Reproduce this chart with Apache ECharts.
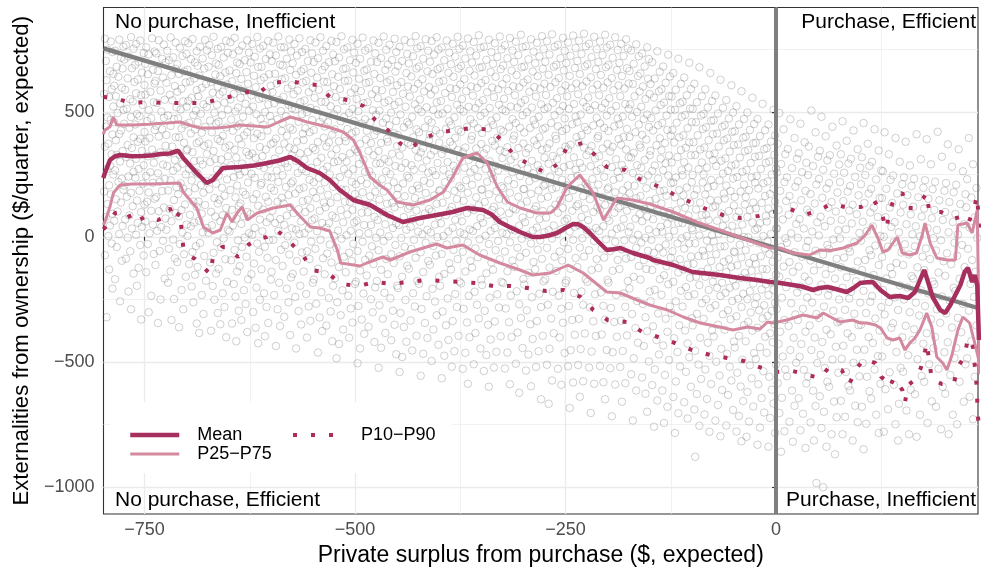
<!DOCTYPE html>
<html><head><meta charset="utf-8">
<script src="https://cdn.jsdelivr.net/npm/echarts@6/dist/echarts.min.js"></script>
<style>html,body{margin:0;padding:0;background:#fff}#c{width:981px;height:575px}</style>
</head><body><div id="c"></div>
<script>
// ---- axis ticks ----
const xTicks = [-750, -500, -250, 0];
const xMinorTicks = [-625, -375, -125, 125];
const yTicks = [-1000, -500, 0, 500];
const yMinorTicks = [-750, -250, 250, 750];
const xLimits = [-798.7, 239.9];
const yLimits = [-1109, 917];

// ---- labels ----
const xTitle = 'Private surplus from purchase ($, expected)';
const yTitle = 'Externalities from ownership ($/quarter, expected)';
const nameMean = 'Mean';
const nameIQR = 'P25\u2212P75';
const nameP1090 = 'P10\u2212P90';
const quadTopLeft = 'No purchase, Inefficient';
const quadTopRight = 'Purchase, Efficient';
const quadBottomLeft = 'No purchase, Efficient';
const quadBottomRight = 'Purchase, Inefficient';

// ---- reference lines ----
const vlineX = 0;
const diagonal = [[-798.7, 753.7], [239.9, -284.9]];

// ---- summary curves (x, y) ----
const meanLine = [[-799,235],[-797,255],[-791,307],[-785,322],[-779,327],[-765,322],[-752,323],[-740,326],[-731,331],[-720,333],[-710,344],[-704,315],[-696,285],[-688,255],[-676,215],[-669,227],[-662,255],[-657,275],[-637,279],[-620,285],[-604,295],[-590,305],[-577,319],[-567,300],[-557,275],[-542,255],[-530,227],[-518,187],[-502,147],[-482,127],[-462,87],[-443,59],[-423,75],[-403,87],[-384,99],[-367,115],[-348,107],[-338,90],[-328,59],[-316,38],[-304,19],[-289,-1],[-280,-1],[-270,5],[-260,15],[-250,35],[-241,51],[-235,50],[-229,39],[-221,15],[-213,-13],[-201,-53],[-193,-50],[-185,-45],[-170,-65],[-160,-75],[-150,-85],[-146,-93],[-122,-113],[-99,-141],[-80,-148],[-67,-153],[-43,-165],[-25,-172],[-7,-181],[5,-185],[20,-193],[32,-200],[44,-213],[52,-205],[61,-201],[72,-210],[84,-221],[92,-205],[100,-185],[108,-182],[115,-181],[124,-213],[135,-241],[147,-237],[157,-245],[165,-221],[171,-173],[176,-133],[181,-185],[186,-241],[195,-293],[201,-305],[207,-273],[213,-233],[219,-193],[224,-141],[228,-125],[233,-181],[236,-153],[239,-193],[241,-413]];
const p75Line = [[-799,410],[-797,427],[-791,440],[-787,479],[-783,447],[-764,447],[-745,450],[-723,455],[-708,459],[-695,445],[-684,435],[-664,435],[-650,440],[-637,447],[-620,443],[-604,439],[-590,460],[-577,479],[-567,470],[-557,459],[-542,447],[-528,435],[-514,419],[-502,387],[-494,335],[-482,239],[-472,210],[-462,187],[-450,139],[-431,127],[-411,147],[-395,179],[-384,239],[-372,315],[-355,335],[-343,295],[-331,199],[-319,139],[-304,115],[-284,95],[-268,95],[-260,119],[-248,199],[-233,247],[-217,175],[-205,67],[-189,155],[-170,147],[-150,131],[-122,99],[-94,59],[-67,27],[-34,-13],[-7,-45],[5,-45],[20,-65],[40,-73],[52,-53],[65,-55],[80,-45],[96,-25],[100,-13],[106,7],[114,47],[118,15],[121,-5],[127,-61],[133,-53],[144,-1],[150,-65],[159,-73],[167,-65],[173,-1],[177,55],[183,-25],[191,-85],[203,-93],[213,-93],[216,47],[227,55],[233,15],[239,107],[242,-550]];
const p25Line = [[-799,47],[-797,59],[-791,120],[-787,175],[-779,207],[-764,211],[-743,211],[-725,213],[-708,215],[-704,179],[-688,115],[-680,39],[-669,15],[-660,27],[-652,95],[-646,59],[-640,95],[-634,119],[-628,67],[-616,95],[-597,115],[-577,127],[-569,95],[-553,39],[-542,35],[-530,23],[-521,-53],[-517,-105],[-494,-117],[-486,-105],[-467,-81],[-458,-93],[-435,-61],[-403,-29],[-391,-45],[-372,-33],[-352,-73],[-328,-105],[-304,-133],[-289,-153],[-268,-145],[-247,-113],[-229,-145],[-201,-221],[-185,-225],[-165,-253],[-150,-273],[-129,-293],[-110,-321],[-90,-345],[-67,-361],[-51,-373],[-34,-361],[-19,-369],[-10,-341],[-4,-345],[13,-333],[32,-313],[49,-325],[56,-305],[76,-341],[91,-333],[100,-345],[108,-345],[118,-353],[124,-365],[132,-405],[139,-413],[147,-405],[153,-453],[159,-425],[165,-405],[171,-373],[179,-305],[185,-361],[191,-481],[198,-505],[203,-533],[209,-473],[216,-373],[222,-321],[230,-345],[236,-425],[240,-481],[242,-513]];
const p90Line = [[-799,559],[-785,555],[-767,535],[-746,539],[-723,535],[-702,535],[-680,535],[-660,551],[-640,567],[-628,579],[-616,571],[-599,615],[-577,623],[-559,611],[-544,607],[-530,559],[-509,547],[-490,523],[-476,467],[-461,427],[-447,375],[-435,351],[-420,391],[-403,415],[-381,427],[-360,435],[-338,427],[-324,379],[-310,323],[-292,287],[-273,255],[-258,295],[-248,359],[-230,375],[-215,327],[-201,279],[-179,267],[-162,231],[-141,203],[-122,171],[-102,139],[-83,111],[-63,87],[-43,75],[-21,83],[-4,99],[17,111],[33,87],[50,103],[65,131],[82,119],[101,119],[116,147],[125,99],[131,31],[135,99],[141,163],[150,175],[156,115],[163,115],[175,155],[179,175],[182,99],[196,99],[209,71],[224,83],[229,59],[234,103],[239,163],[242,-13]];
const p10Line = [[-799,30],[-795,43],[-785,95],[-771,103],[-764,55],[-747,83],[-734,67],[-728,75],[-720,115],[-714,67],[-708,99],[-704,-41],[-698,-73],[-690,-89],[-684,-109],[-672,-149],[-669,-89],[-658,-41],[-652,-41],[-639,-81],[-627,-33],[-616,-9],[-605,-1],[-593,27],[-580,-13],[-562,-73],[-551,-133],[-532,-145],[-517,-189],[-496,-197],[-476,-181],[-456,-189],[-437,-181],[-416,-173],[-395,-177],[-376,-181],[-356,-185],[-336,-197],[-315,-197],[-295,-205],[-273,-217],[-252,-213],[-232,-241],[-217,-293],[-200,-333],[-177,-341],[-159,-381],[-140,-401],[-120,-425],[-100,-453],[-78,-473],[-58,-485],[-38,-497],[-20,-521],[0,-541],[20,-537],[37,-553],[53,-565],[62,-525],[78,-533],[87,-589],[96,-525],[105,-489],[118,-505],[125,-561],[132,-577],[135,-601],[140,-565],[150,-613],[153,-665],[157,-593],[163,-577],[172,-525],[177,-457],[179,-425],[182,-497],[185,-569],[197,-589],[211,-589],[216,-521],[224,-477],[228,-405],[234,-441],[236,-513],[238,-585],[239,-657],[240,-725],[242,-773]];

const cloud = [
[-797,792],[-790,781],[-794,748],[-788,739],[-796,703],[-791,662],[-787,651],[-795,626],[-789,590],[-798,571],[-792,559],[-787,521],[-794,477],[-790,468],[-796,440],[-788,409],[-793,372],[-797,361],[-789,330],[-791,284],[-795,270],[-787,249],[-792,206],[-798,181],[-790,170],[-794,131],[-788,92],[-796,79],[-791,45],[-793,3],[-789,-27],[-797,-74],[-792,-131],[-788,-207],[-795,-322],
[-780,788],[-775,760],[-785,744],[-778,716],[-783,680],[-776,673],[-781,640],[-786,604],[-777,596],[-784,562],[-779,533],[-775,507],[-782,495],[-786,458],[-778,425],[-780,411],[-784,386],[-776,343],[-783,327],[-779,301],[-785,266],[-777,232],[-781,219],[-775,188],[-784,150],[-778,137],[-782,101],[-786,64],[-776,43],[-780,11],[-783,-41],[-777,-96],[-785,-170],[-779,-258],
[-766,799],[-772,767],[-763,752],[-769,721],[-774,709],[-765,674],[-770,634],[-762,619],[-773,588],[-767,550],[-764,541],[-771,512],[-766,479],[-774,452],[-768,436],[-763,398],[-770,367],[-765,355],[-772,319],[-767,293],[-763,260],[-769,241],[-774,204],[-766,176],[-771,160],[-764,122],[-768,85],[-773,69],[-765,33],[-770,-4],[-767,-58],[-772,-88],[-763,-147],[-769,-219],[-766,-290],
[-755,785],[-760,771],[-751,735],[-757,700],[-761,688],[-753,657],[-758,629],[-750,607],[-760,574],[-754,566],[-752,527],[-759,491],[-756,482],[-761,449],[-750,419],[-755,392],[-758,380],[-753,344],[-760,312],[-751,286],[-757,271],[-761,236],[-752,213],[-756,184],[-759,145],[-750,129],[-754,98],[-758,56],[-753,40],[-760,8],[-755,-33],[-751,-75],[-757,-124],[-759,-196],[-754,-331],
[-741,794],[-748,758],[-738,741],[-745,729],[-749,692],[-740,668],[-746,650],[-738,613],[-743,580],[-749,569],[-739,538],[-745,506],[-742,474],[-747,463],[-738,427],[-744,395],[-749,381],[-741,349],[-746,322],[-739,296],[-743,258],[-748,243],[-740,216],[-745,177],[-738,152],[-747,140],[-742,104],[-749,61],[-740,48],[-744,14],[-746,-29],[-739,-69],[-748,-142],[-742,-236],[-745,-302],
[-733,786],[-727,769],[-736,733],[-729,712],[-725,697],[-734,663],[-728,637],[-737,623],[-731,585],[-726,548],[-735,535],[-730,501],[-727,476],[-736,444],[-729,430],[-733,401],[-725,364],[-731,338],[-737,327],[-728,289],[-734,254],[-726,231],[-732,220],[-729,183],[-736,159],[-727,117],[-733,102],[-725,73],[-730,39],[-735,24],[-728,-16],[-732,-57],[-737,-113],[-726,-167],[-731,-251],[-734,-345],
[-719,797],[-713,777],[-723,744],[-716,718],[-721,706],[-713,672],[-718,646],[-724,616],[-714,603],[-720,568],[-717,546],[-712,518],[-722,485],[-715,471],[-719,443],[-724,407],[-713,398],[-717,361],[-721,333],[-714,307],[-723,283],[-716,264],[-719,226],[-712,198],[-722,185],[-715,147],[-720,111],[-713,95],[-718,62],[-724,28],[-716,-11],[-721,-48],[-714,-86],[-719,-139],[-722,-184],[-715,-249],[-718,-333],
[-702,782],[-708,756],[-700,731],[-705,723],[-711,690],[-703,661],[-709,651],[-701,617],[-706,592],[-711,580],[-704,541],[-700,520],[-707,509],[-710,474],[-702,449],[-706,433],[-709,398],[-703,376],[-700,345],[-708,326],[-705,292],[-711,277],[-701,249],[-707,214],[-704,193],[-710,170],[-702,129],[-706,107],[-709,82],[-700,49],[-705,17],[-708,-29],[-703,-70],[-711,-101],[-701,-160],[-706,-213],[-704,-290],[-709,-362],
[-693,791],[-698,774],[-688,742],[-695,711],[-690,697],[-699,668],[-691,633],[-696,621],[-688,587],[-694,556],[-698,543],[-689,505],[-692,487],[-697,456],[-690,429],[-695,413],[-688,374],[-699,350],[-693,338],[-691,303],[-697,270],[-689,258],[-694,225],[-690,194],[-698,178],[-692,141],[-688,120],[-696,88],[-691,57],[-695,42],[-699,3],[-689,-38],[-693,-61],[-697,-109],[-690,-152],[-694,-199],[-692,-262],[-688,-347],
[-678,787],[-684,760],[-676,746],[-681,713],[-687,684],[-679,673],[-685,645],[-677,611],[-682,596],[-686,562],[-680,530],[-676,519],[-683,492],[-687,458],[-678,440],[-682,416],[-685,381],[-679,364],[-676,331],[-684,305],[-681,289],[-687,252],[-677,222],[-683,207],[-680,176],[-686,141],[-678,127],[-682,93],[-685,64],[-676,35],[-681,18],[-684,-25],[-679,-77],[-687,-121],[-677,-176],[-682,-233],[-680,-309],[-685,-385],
[-668,800],[-673,767],[-663,752],[-670,726],[-665,693],[-674,680],[-666,649],[-671,619],[-663,601],[-669,576],[-673,544],[-664,528],[-667,496],[-672,465],[-665,453],[-670,418],[-663,391],[-674,372],[-668,343],[-666,311],[-672,299],[-664,268],[-669,233],[-665,212],[-673,190],[-667,155],[-663,133],[-671,100],[-666,81],[-670,46],[-674,16],[-664,-22],[-668,-64],[-672,-103],[-665,-147],[-669,-197],[-667,-252],[-663,-305],[-671,-376],
[-653,784],[-659,759],[-651,736],[-656,717],[-662,687],[-654,657],[-660,642],[-652,609],[-657,580],[-661,569],[-655,537],[-651,508],[-658,487],[-662,460],[-653,437],[-657,404],[-660,383],[-654,357],[-651,322],[-659,309],[-656,278],[-662,244],[-652,229],[-658,196],[-655,164],[-661,148],[-653,115],[-657,86],[-660,62],[-651,27],[-656,-6],[-659,-42],[-654,-90],[-662,-128],[-652,-180],[-657,-226],[-655,-281],[-660,-350],[-653,-402],
[-643,796],[-648,778],[-638,745],[-645,730],[-640,697],[-649,665],[-641,654],[-646,622],[-638,593],[-644,571],[-648,549],[-639,517],[-642,501],[-647,469],[-640,442],[-645,424],[-638,392],[-649,365],[-643,348],[-641,317],[-647,286],[-639,271],[-644,239],[-640,205],[-648,187],[-642,158],[-638,124],[-646,108],[-641,73],[-645,44],[-649,21],[-639,-14],[-643,-53],[-647,-94],[-640,-139],[-644,-189],[-642,-240],[-638,-296],[-646,-347],[-641,-418],
[-628,786],[-634,765],[-626,737],[-631,706],[-637,691],[-629,659],[-635,631],[-627,612],[-632,583],[-636,556],[-630,532],[-626,503],[-633,480],[-637,450],[-628,419],[-632,405],[-635,370],[-629,340],[-626,326],[-634,293],[-631,261],[-637,248],[-627,217],[-633,180],[-630,168],[-636,133],[-628,99],[-632,82],[-635,51],[-626,14],[-631,-3],[-634,-41],[-629,-80],[-637,-118],[-627,-170],[-632,-214],[-630,-269],[-635,-333],[-628,-381],
[-616,799],[-622,771],[-613,753],[-619,720],[-624,697],[-615,679],[-620,644],[-612,626],[-618,598],[-623,566],[-614,551],[-621,521],[-617,490],[-612,471],[-624,441],[-616,412],[-620,394],[-613,359],[-622,333],[-618,316],[-614,285],[-623,252],[-619,236],[-612,207],[-617,171],[-621,151],[-615,124],[-624,91],[-613,69],[-619,36],[-622,8],[-616,-27],[-614,-60],[-620,-107],[-623,-149],[-617,-203],[-613,-252],[-621,-301],[-618,-364],[-615,-426],
[-603,783],[-609,764],[-601,729],[-606,711],[-611,680],[-602,650],[-608,637],[-600,604],[-605,574],[-610,556],[-603,529],[-607,499],[-601,483],[-609,448],[-604,425],[-611,402],[-600,370],[-606,349],[-610,322],[-602,292],[-608,275],[-604,241],[-611,215],[-600,196],[-606,160],[-603,140],[-609,109],[-601,75],[-605,58],[-610,22],[-602,-13],[-607,-40],[-604,-84],[-611,-130],[-600,-171],[-608,-226],[-605,-281],[-603,-345],[-607,-398],
[-591,801],[-597,776],[-588,758],[-594,726],[-599,703],[-589,689],[-595,652],[-587,630],[-593,613],[-598,578],[-590,547],[-596,534],[-588,503],[-592,470],[-599,457],[-587,423],[-594,393],[-597,376],[-590,346],[-595,313],[-588,298],[-593,265],[-599,237],[-591,219],[-596,184],[-587,156],[-592,140],[-598,104],[-589,71],[-595,55],[-591,23],[-597,-12],[-588,-52],[-594,-93],[-599,-140],[-590,-184],[-596,-233],[-592,-290],[-589,-357],[-594,-437],
[-578,789],[-584,758],[-576,742],[-581,712],[-586,685],[-577,667],[-583,634],[-575,606],[-580,593],[-585,560],[-579,528],[-575,514],[-582,482],[-586,453],[-577,436],[-581,404],[-584,373],[-578,357],[-575,326],[-583,294],[-580,278],[-586,246],[-576,214],[-582,199],[-579,167],[-585,133],[-577,118],[-581,85],[-584,48],[-575,34],[-580,2],[-583,-34],[-578,-71],[-586,-117],[-576,-163],[-581,-208],[-579,-262],[-584,-320],[-577,-393],
[-566,794],[-572,771],[-563,739],[-569,725],[-574,694],[-564,662],[-570,648],[-562,617],[-568,585],[-573,570],[-565,538],[-571,509],[-563,490],[-567,460],[-574,428],[-562,412],[-569,381],[-572,350],[-565,334],[-570,303],[-563,270],[-568,255],[-574,222],[-566,191],[-571,173],[-562,142],[-567,110],[-573,95],[-564,61],[-570,29],[-566,11],[-572,-24],[-563,-63],[-569,-97],[-574,-148],[-565,-196],[-571,-241],[-567,-297],[-564,-351],[-570,-447],
[-553,786],[-559,752],[-551,733],[-556,703],[-561,671],[-552,656],[-558,623],[-550,596],[-555,578],[-560,545],[-553,515],[-557,498],[-551,467],[-559,434],[-554,418],[-561,387],[-550,356],[-556,339],[-560,308],[-552,276],[-558,261],[-554,228],[-561,197],[-550,180],[-556,148],[-553,115],[-559,99],[-551,66],[-555,33],[-560,15],[-552,-19],[-557,-58],[-554,-89],[-561,-139],[-550,-184],[-558,-229],[-555,-279],[-553,-336],[-557,-403],
[-541,798],[-547,777],[-538,744],[-544,714],[-549,699],[-539,667],[-545,637],[-537,620],[-543,588],[-548,556],[-540,540],[-546,507],[-538,476],[-542,459],[-549,427],[-537,396],[-544,379],[-547,347],[-540,316],[-545,299],[-538,267],[-543,236],[-549,218],[-541,187],[-546,155],[-537,137],[-542,104],[-548,73],[-539,55],[-545,22],[-541,-12],[-547,-48],[-538,-86],[-544,-128],[-549,-171],[-540,-222],[-546,-268],[-542,-323],[-539,-377],[-544,-463],
[-528,784],[-534,763],[-526,729],[-531,698],[-536,682],[-527,650],[-533,619],[-525,602],[-530,571],[-535,539],[-529,522],[-525,490],[-532,458],[-536,441],[-527,409],[-531,378],[-534,361],[-528,329],[-525,298],[-533,281],[-530,249],[-536,218],[-526,200],[-532,168],[-529,136],[-535,118],[-527,85],[-531,54],[-534,36],[-525,3],[-530,-31],[-533,-67],[-528,-103],[-536,-150],[-526,-196],[-531,-245],[-529,-299],[-534,-355],[-527,-418],
[-516,802],[-522,779],[-513,750],[-519,717],[-524,702],[-514,671],[-520,640],[-512,623],[-518,591],[-523,559],[-515,543],[-521,510],[-513,479],[-517,462],[-524,430],[-512,399],[-519,382],[-522,350],[-515,319],[-520,302],[-513,270],[-518,239],[-524,221],[-516,189],[-521,158],[-512,140],[-517,107],[-523,76],[-514,58],[-520,25],[-516,-8],[-522,-45],[-513,-80],[-519,-121],[-524,-166],[-515,-214],[-521,-262],[-517,-314],[-514,-371],[-519,-429],[-522,-486],
[-503,788],[-509,757],[-501,737],[-506,706],[-511,674],[-502,657],[-508,625],[-500,593],[-505,576],[-510,544],[-503,512],[-507,495],[-501,463],[-509,431],[-504,414],[-511,382],[-500,350],[-506,333],[-510,301],[-502,270],[-508,252],[-504,220],[-511,188],[-500,171],[-506,139],[-503,107],[-509,89],[-501,57],[-505,24],[-510,6],[-502,-28],[-507,-64],[-504,-97],[-511,-142],[-500,-189],[-508,-236],[-505,-287],[-503,-343],[-507,-404],
[-491,797],[-497,772],[-488,745],[-494,712],[-499,696],[-489,664],[-495,632],[-487,615],[-493,583],[-498,551],[-490,534],[-496,502],[-488,470],[-492,453],[-499,421],[-487,389],[-494,372],[-497,340],[-490,308],[-495,291],[-488,259],[-493,227],[-499,210],[-491,178],[-496,146],[-487,129],[-492,96],[-498,64],[-489,47],[-495,14],[-491,-20],[-497,-57],[-488,-92],[-494,-135],[-499,-180],[-490,-227],[-496,-277],[-492,-331],[-489,-388],[-494,-447],[-497,-506],
[-478,785],[-484,754],[-476,733],[-481,700],[-486,669],[-477,651],[-483,619],[-475,588],[-480,570],[-485,538],[-479,506],[-475,488],[-482,456],[-486,424],[-477,407],[-481,375],[-484,343],[-478,326],[-475,293],[-483,262],[-480,244],[-486,212],[-476,180],[-482,162],[-479,130],[-485,98],[-477,80],[-481,47],[-484,14],[-475,-4],[-480,-38],[-483,-75],[-478,-109],[-486,-155],[-476,-202],[-481,-250],[-479,-302],[-484,-360],[-477,-421],
[-466,801],[-472,776],[-463,748],[-469,715],[-474,699],[-464,667],[-470,635],[-462,618],[-468,586],[-473,554],[-465,537],[-471,505],[-463,473],[-467,456],[-474,424],[-462,392],[-469,375],[-472,343],[-465,311],[-470,294],[-463,262],[-468,230],[-474,213],[-466,181],[-471,149],[-462,132],[-467,99],[-473,67],[-464,50],[-470,17],[-466,-17],[-472,-54],[-463,-89],[-469,-132],[-474,-177],[-465,-224],[-471,-274],[-467,-328],[-464,-385],[-469,-444],[-472,-524],
[-453,792],[-459,768],[-451,739],[-456,707],[-461,689],[-452,661],[-458,627],[-450,606],[-455,579],[-460,545],[-453,527],[-457,496],[-451,463],[-459,445],[-454,414],[-461,380],[-450,363],[-456,332],[-460,300],[-452,283],[-458,250],[-454,218],[-461,201],[-450,168],[-456,136],[-453,118],[-459,86],[-451,53],[-455,35],[-460,2],[-452,-33],[-457,-70],[-454,-105],[-461,-150],[-450,-196],[-458,-246],[-455,-296],[-453,-352],[-457,-414],[-451,-470],
[-441,787],[-447,760],[-438,731],[-444,703],[-449,684],[-439,655],[-445,619],[-437,601],[-443,572],[-448,540],[-440,520],[-446,489],[-438,458],[-442,438],[-449,407],[-437,376],[-444,357],[-447,325],[-440,295],[-445,276],[-438,244],[-443,213],[-449,194],[-441,162],[-446,131],[-437,112],[-442,79],[-448,47],[-439,28],[-445,-5],[-441,-40],[-447,-78],[-438,-116],[-444,-160],[-449,-205],[-440,-253],[-446,-305],[-442,-361],[-439,-420],[-444,-481],[-447,-541],
[-428,803],[-434,777],[-426,754],[-431,722],[-436,693],[-427,673],[-433,641],[-425,612],[-430,592],[-435,561],[-429,530],[-425,511],[-432,480],[-436,449],[-427,430],[-431,398],[-434,367],[-428,348],[-425,317],[-433,286],[-430,268],[-436,236],[-426,205],[-432,187],[-429,155],[-435,123],[-427,105],[-431,72],[-434,40],[-425,21],[-430,-12],[-433,-49],[-428,-84],[-436,-128],[-426,-176],[-431,-226],[-429,-279],[-434,-335],[-427,-396],[-432,-455],
[-416,790],[-422,762],[-413,744],[-419,712],[-424,681],[-414,662],[-420,630],[-412,599],[-418,581],[-423,549],[-415,518],[-421,499],[-413,468],[-417,437],[-424,418],[-412,386],[-419,355],[-422,337],[-415,305],[-420,274],[-413,256],[-418,224],[-424,193],[-416,175],[-421,142],[-412,111],[-417,93],[-423,60],[-414,28],[-420,10],[-416,-24],[-422,-62],[-413,-97],[-419,-141],[-424,-188],[-415,-238],[-421,-289],[-417,-345],[-414,-405],[-419,-468],[-422,-556],
[-403,798],[-409,783],[-401,749],[-406,729],[-411,700],[-402,670],[-408,651],[-400,620],[-405,588],[-410,569],[-403,538],[-407,507],[-401,489],[-409,457],[-404,426],[-411,408],[-400,376],[-406,345],[-410,327],[-402,295],[-408,264],[-404,246],[-411,214],[-400,183],[-406,165],[-403,132],[-409,101],[-401,82],[-405,49],[-410,17],[-402,-2],[-407,-37],[-404,-75],[-411,-112],[-400,-160],[-408,-208],[-405,-259],[-403,-314],[-407,-371],[-401,-432],[-409,-497],
[-391,785],[-397,757],[-388,737],[-394,706],[-399,676],[-389,656],[-395,624],[-387,594],[-393,575],[-398,543],[-390,512],[-396,493],[-388,462],[-392,431],[-399,412],[-387,380],[-394,349],[-397,331],[-390,299],[-395,268],[-388,250],[-393,218],[-399,187],[-391,168],[-396,136],[-387,105],[-392,86],[-398,54],[-389,21],[-395,3],[-391,-31],[-397,-69],[-388,-106],[-394,-149],[-399,-196],[-390,-247],[-396,-299],[-392,-354],[-389,-413],[-394,-476],[-397,-566],
[-378,800],[-384,772],[-376,752],[-381,721],[-386,690],[-377,673],[-383,640],[-375,609],[-380,591],[-385,559],[-379,528],[-375,510],[-382,478],[-386,446],[-377,428],[-381,396],[-384,365],[-378,347],[-375,315],[-383,284],[-380,265],[-386,233],[-376,202],[-382,183],[-379,151],[-385,120],[-377,101],[-381,68],[-384,36],[-375,17],[-380,-16],[-383,-53],[-378,-89],[-386,-131],[-376,-179],[-381,-229],[-379,-281],[-384,-337],[-377,-396],[-382,-458],[-385,-520],
[-366,793],[-372,765],[-363,742],[-369,713],[-374,683],[-364,664],[-370,631],[-362,601],[-368,582],[-373,551],[-365,520],[-371,501],[-363,470],[-367,439],[-374,420],[-362,388],[-369,357],[-372,338],[-365,307],[-370,276],[-363,257],[-368,226],[-374,194],[-366,176],[-371,144],[-362,113],[-367,94],[-373,62],[-364,29],[-370,10],[-366,-23],[-372,-60],[-363,-96],[-369,-139],[-374,-186],[-365,-236],[-371,-288],[-367,-343],[-364,-402],[-369,-464],[-372,-528],[-366,-588],
[-353,806],[-359,779],[-351,756],[-356,725],[-361,697],[-352,676],[-358,645],[-350,615],[-355,596],[-360,564],[-353,534],[-357,515],[-351,484],[-359,453],[-354,434],[-361,403],[-350,371],[-356,353],[-360,321],[-352,290],[-358,271],[-354,240],[-361,208],[-350,189],[-356,158],[-353,126],[-359,107],[-351,75],[-355,42],[-360,23],[-352,-10],[-357,-46],[-354,-82],[-361,-123],[-350,-171],[-358,-220],[-355,-272],[-353,-327],[-357,-385],[-351,-447],[-359,-510],
[-341,788],[-347,760],[-338,739],[-344,708],[-349,679],[-339,659],[-345,627],[-337,597],[-343,578],[-348,546],[-340,515],[-346,496],[-338,465],[-342,434],[-349,415],[-337,383],[-344,352],[-347,333],[-340,302],[-345,271],[-338,252],[-343,220],[-349,189],[-341,170],[-346,139],[-337,107],[-342,88],[-348,56],[-339,23],[-345,4],[-341,-29],[-347,-66],[-338,-103],[-344,-146],[-349,-193],[-340,-244],[-346,-296],[-342,-352],[-339,-411],[-344,-473],[-347,-537],[-341,-600],
[-328,801],[-334,774],[-326,749],[-331,719],[-336,692],[-327,670],[-333,640],[-325,610],[-330,590],[-335,559],[-329,528],[-325,509],[-332,478],[-336,447],[-327,428],[-331,396],[-334,365],[-328,346],[-325,315],[-333,284],[-330,265],[-336,233],[-326,202],[-332,183],[-329,151],[-335,120],[-327,101],[-331,68],[-334,35],[-325,16],[-330,-17],[-333,-54],[-328,-90],[-336,-132],[-326,-180],[-331,-230],[-329,-283],[-334,-339],[-327,-398],[-332,-460],[-335,-523],
[-316,795],[-322,766],[-313,745],[-319,714],[-324,685],[-314,665],[-320,633],[-312,602],[-318,583],[-323,552],[-315,521],[-321,502],[-313,471],[-317,440],[-324,421],[-312,389],[-319,358],[-322,339],[-315,308],[-320,277],[-313,258],[-318,226],[-324,195],[-316,176],[-321,145],[-312,113],[-317,94],[-323,62],[-314,30],[-320,11],[-316,-22],[-322,-59],[-313,-95],[-319,-138],[-324,-185],[-315,-235],[-321,-287],[-317,-342],[-314,-401],[-319,-463],[-322,-527],[-316,-590],
[-303,808],[-309,780],[-301,758],[-306,727],[-311,699],[-302,678],[-308,647],[-300,617],[-305,598],[-310,566],[-303,536],[-307,517],[-301,486],[-309,455],[-304,436],[-311,405],[-300,373],[-306,355],[-310,323],[-302,292],[-308,273],[-304,242],[-311,210],[-300,191],[-306,160],[-303,128],[-309,109],[-301,77],[-305,44],[-310,25],[-302,-8],[-307,-44],[-304,-80],[-311,-121],[-300,-169],[-308,-218],[-305,-270],[-303,-325],[-307,-383],[-301,-445],[-309,-508],[-305,-624],
[-291,790],[-297,762],[-288,741],[-294,710],[-299,681],[-289,661],[-295,629],[-287,599],[-293,580],[-298,548],[-290,517],[-296,498],[-288,467],[-292,436],[-299,417],[-287,385],[-294,354],[-297,335],[-290,304],[-295,273],[-288,254],[-293,222],[-299,191],[-291,172],[-296,141],[-287,109],[-292,90],[-298,58],[-289,25],[-295,6],[-291,-27],[-297,-64],[-288,-101],[-294,-144],[-299,-191],[-290,-242],[-296,-294],[-292,-350],[-289,-409],[-294,-471],[-297,-535],[-291,-598],
[-278,803],[-284,776],[-276,751],[-281,721],[-286,694],[-277,672],[-283,642],[-275,612],[-280,592],[-285,561],[-279,530],[-275,511],[-282,480],[-286,449],[-277,430],[-281,398],[-284,367],[-278,348],[-275,317],[-283,286],[-280,267],[-286,235],[-276,204],[-282,185],[-279,153],[-285,122],[-277,103],[-281,70],[-284,37],[-275,18],[-280,-15],[-283,-52],[-278,-88],[-286,-130],[-276,-178],[-281,-228],[-279,-281],[-284,-337],[-277,-396],[-282,-458],[-285,-521],[-279,-650],
[-266,810],[-272,782],[-263,760],[-269,729],[-274,700],[-264,680],[-270,648],[-262,618],[-268,599],[-273,567],[-265,536],[-271,517],[-263,486],[-267,455],[-274,436],[-262,404],[-269,373],[-272,354],[-265,323],[-270,292],[-263,273],[-268,241],[-274,210],[-266,191],[-271,160],[-262,128],[-267,109],[-273,77],[-264,45],[-270,26],[-266,-7],[-272,-44],[-263,-80],[-269,-123],[-274,-170],[-265,-220],[-271,-272],[-267,-327],[-264,-386],[-269,-448],[-272,-512],[-266,-575],[-270,-668],
[-253,796],[-259,768],[-251,744],[-256,714],[-261,687],[-252,665],[-258,635],[-250,605],[-255,585],[-260,554],[-253,523],[-257,504],[-251,473],[-259,442],[-254,423],[-261,391],[-250,360],[-256,341],[-260,310],[-252,279],[-258,260],[-254,228],[-261,197],[-250,178],[-256,146],[-253,115],[-259,96],[-251,63],[-255,30],[-260,11],[-252,-22],[-257,-59],[-254,-95],[-261,-137],[-250,-185],[-258,-235],[-255,-288],[-253,-344],[-257,-403],[-251,-465],[-259,-528],[-255,-592],
[-241,805],[-247,777],[-238,755],[-244,724],[-249,695],[-239,675],[-245,643],[-237,613],[-243,594],[-248,562],[-240,531],[-246,512],[-238,481],[-242,450],[-249,431],[-237,399],[-244,368],[-247,349],[-240,318],[-245,287],[-238,268],[-243,236],[-249,205],[-241,186],[-246,155],[-237,123],[-242,104],[-248,72],[-239,40],[-245,21],[-241,-12],[-247,-49],[-238,-85],[-244,-128],[-249,-175],[-240,-225],[-246,-277],[-242,-333],[-239,-392],[-244,-454],[-247,-518],[-241,-583],[-245,-685],
[-228,812],[-234,784],[-226,761],[-231,731],[-236,703],[-227,682],[-233,651],[-225,621],[-230,602],[-235,570],[-229,539],[-225,520],[-232,489],[-236,458],[-227,439],[-231,407],[-234,376],[-228,357],[-225,326],[-233,295],[-230,276],[-236,244],[-226,213],[-232,194],[-229,162],[-235,131],[-227,112],[-231,79],[-234,46],[-225,27],[-230,-6],[-233,-43],[-228,-79],[-236,-121],[-226,-169],[-231,-219],[-229,-272],[-234,-328],[-227,-387],[-232,-449],[-235,-513],[-229,-578],[-233,-640],
[-216,800],[-222,772],[-213,750],[-219,719],[-224,690],[-214,670],[-220,638],[-212,608],[-218,589],[-223,557],[-215,526],[-221,507],[-213,476],[-217,445],[-224,426],[-212,394],[-219,363],[-222,344],[-215,313],[-220,282],[-213,263],[-218,231],[-224,200],[-216,181],[-221,150],[-212,118],[-217,99],[-223,67],[-214,35],[-220,16],[-216,-17],[-222,-54],[-213,-90],[-219,-133],[-224,-180],[-215,-230],[-221,-282],[-217,-338],[-214,-397],[-219,-459],[-222,-523],[-216,-588],[-220,-705],
[-203,808],[-209,781],[-201,757],[-206,727],[-211,699],[-202,678],[-208,647],[-200,617],[-205,597],[-210,566],[-203,535],[-207,516],[-201,485],[-209,454],[-204,435],[-211,403],[-200,372],[-206,353],[-210,322],[-202,291],[-208,272],[-204,240],[-211,209],[-200,190],[-206,158],[-203,127],[-209,108],[-201,75],[-205,42],[-210,23],[-202,-10],[-207,-47],[-204,-83],[-211,-125],[-200,-173],[-208,-223],[-205,-276],[-203,-332],[-207,-391],[-201,-453],[-209,-517],[-205,-582],[-203,-650],
[-191,798],[-197,768],[-188,747],[-194,716],[-199,687],[-189,667],[-195,635],[-187,605],[-193,586],[-198,554],[-190,523],[-196,504],[-188,473],[-192,442],[-199,423],[-187,391],[-194,360],[-197,341],[-190,310],[-195,279],[-188,260],[-193,228],[-199,197],[-191,178],[-196,147],[-187,115],[-192,96],[-198,64],[-189,32],[-195,13],[-191,-20],[-197,-57],[-188,-93],[-194,-136],[-199,-183],[-190,-233],[-196,-285],[-192,-341],[-189,-400],[-194,-462],[-197,-526],[-191,-591],[-195,-718],
[-178,790],[-184,772],[-176,753],[-181,723],[-186,695],[-177,674],[-183,643],[-175,613],[-180,593],[-185,562],[-179,531],[-175,512],[-182,481],[-186,450],[-177,431],[-181,399],[-184,368],[-178,349],[-175,318],[-183,287],[-180,268],[-186,236],[-176,205],[-182,186],[-179,154],[-185,123],[-177,104],[-181,71],[-184,38],[-175,19],[-180,-14],[-183,-51],[-178,-87],[-186,-129],[-176,-177],[-181,-227],[-179,-280],[-184,-336],[-177,-395],[-182,-457],[-185,-521],[-179,-586],[-183,-660],
[-166,770],[-172,745],[-163,722],[-169,692],[-174,663],[-164,643],[-170,611],[-162,581],[-168,562],[-173,530],[-165,499],[-171,480],[-163,449],[-167,418],[-174,399],[-162,367],[-169,336],[-172,317],[-165,286],[-170,255],[-163,236],[-168,204],[-174,173],[-166,154],[-171,123],[-162,91],[-167,72],[-173,40],[-164,8],[-170,-11],[-166,-44],[-172,-81],[-163,-117],[-169,-160],[-174,-207],[-165,-257],[-171,-309],[-167,-365],[-164,-424],[-169,-486],[-172,-550],[-166,-615],[-170,-735],
[-153,758],[-159,733],[-151,711],[-156,681],[-161,653],[-152,632],[-158,601],[-150,571],[-155,551],[-160,520],[-153,489],[-157,470],[-151,439],[-159,408],[-154,389],[-161,357],[-150,326],[-156,307],[-160,276],[-152,245],[-158,226],[-154,194],[-161,163],[-150,144],[-156,112],[-153,81],[-159,62],[-151,29],[-155,-4],[-160,-23],[-152,-56],[-157,-93],[-154,-129],[-161,-171],[-150,-219],[-158,-269],[-155,-322],[-153,-378],[-157,-437],[-151,-499],[-159,-563],[-155,-628],[-153,-700],
[-141,742],[-147,698],[-138,660],[-144,633],[-149,611],[-139,582],[-145,557],[-137,527],[-143,505],[-148,474],[-140,446],[-146,425],[-138,394],[-142,366],[-149,344],[-137,313],[-144,285],[-147,264],[-140,233],[-145,204],[-138,183],[-143,152],[-149,122],[-141,101],[-146,70],[-137,40],[-142,19],[-148,-12],[-139,-44],[-145,-64],[-141,-97],[-147,-133],[-138,-170],[-144,-212],[-149,-258],[-140,-307],[-146,-358],[-142,-413],[-139,-471],[-144,-531],[-147,-593],[-141,-655],[-145,-760],
[-128,728],[-134,681],[-126,641],[-131,616],[-136,590],[-127,563],[-133,537],[-125,508],[-130,485],[-135,455],[-129,427],[-125,405],[-132,375],[-136,346],[-127,325],[-131,294],[-134,266],[-128,245],[-125,214],[-133,185],[-130,164],[-136,133],[-126,103],[-132,82],[-129,51],[-135,20],[-127,0],[-131,-31],[-134,-63],[-125,-84],[-130,-117],[-133,-154],[-128,-190],[-136,-232],[-126,-279],[-131,-328],[-129,-380],[-134,-435],[-127,-493],[-132,-553],[-135,-615],[-129,-680],[-133,-745],
[-116,712],[-122,655],[-113,612],[-119,588],[-124,561],[-114,534],[-120,508],[-112,480],[-118,456],[-123,427],[-115,398],[-121,377],[-113,347],[-117,319],[-124,297],[-112,266],[-119,238],[-122,217],[-115,187],[-120,158],[-113,137],[-118,106],[-124,76],[-116,55],[-121,24],[-112,-6],[-117,-27],[-123,-58],[-114,-90],[-120,-110],[-116,-143],[-122,-180],[-113,-216],[-119,-258],[-124,-305],[-115,-354],[-121,-406],[-117,-461],[-114,-519],[-119,-579],[-122,-641],[-116,-706],[-120,-785],
[-103,696],[-109,637],[-101,591],[-106,566],[-111,540],[-102,513],[-108,487],[-100,459],[-105,435],[-110,406],[-103,377],[-107,356],[-101,326],[-109,298],[-104,277],[-111,246],[-100,218],[-106,197],[-110,166],[-102,137],[-108,116],[-104,85],[-111,55],[-100,34],[-106,3],[-103,-27],[-109,-48],[-101,-79],[-105,-111],[-110,-131],[-102,-164],[-107,-201],[-104,-237],[-111,-279],[-100,-326],[-108,-375],[-105,-427],[-103,-482],[-107,-540],[-101,-600],[-109,-662],[-105,-727],
[-91,678],[-97,612],[-88,562],[-94,538],[-99,511],[-89,485],[-95,458],[-87,431],[-93,406],[-98,378],[-90,349],[-96,327],[-88,297],[-92,270],[-99,247],[-87,217],[-94,189],[-97,167],[-90,137],[-95,109],[-88,87],[-93,57],[-99,26],[-91,5],[-96,-26],[-87,-56],[-92,-77],[-98,-108],[-89,-140],[-95,-160],[-91,-193],[-97,-230],[-88,-266],[-94,-308],[-99,-355],[-90,-404],[-96,-456],[-92,-511],[-89,-569],[-94,-629],[-97,-691],[-91,-756],[-96,-880],
[-78,655],[-84,590],[-76,543],[-81,517],[-86,491],[-77,464],[-83,438],[-75,410],[-80,386],[-85,357],[-79,328],[-75,307],[-82,277],[-86,249],[-77,227],[-81,197],[-84,169],[-78,147],[-75,117],[-83,88],[-80,67],[-86,36],[-76,6],[-82,-15],[-79,-46],[-85,-76],[-77,-97],[-81,-128],[-84,-160],[-75,-180],[-80,-213],[-83,-250],[-78,-286],[-86,-328],[-76,-375],[-81,-424],[-79,-476],[-84,-531],[-77,-589],[-82,-649],[-85,-711],[-79,-780],
[-66,628],[-72,565],[-63,516],[-69,493],[-74,466],[-64,440],[-70,413],[-62,386],[-68,361],[-73,333],[-65,304],[-71,283],[-63,253],[-67,225],[-74,203],[-62,173],[-69,145],[-72,123],[-65,93],[-70,64],[-63,43],[-68,12],[-74,-18],[-66,-39],[-71,-70],[-62,-100],[-67,-121],[-73,-152],[-64,-184],[-70,-204],[-66,-237],[-72,-274],[-63,-310],[-69,-352],[-74,-399],[-65,-448],[-71,-500],[-67,-555],[-64,-613],[-69,-673],[-72,-735],[-66,-798],
[-53,606],[-59,547],[-51,497],[-56,473],[-61,446],[-52,420],[-58,393],[-50,366],[-55,341],[-60,313],[-53,284],[-57,263],[-51,233],[-59,205],[-54,183],[-61,153],[-50,125],[-56,103],[-60,73],[-52,44],[-58,23],[-54,-8],[-61,-38],[-50,-59],[-56,-90],[-53,-120],[-59,-141],[-51,-172],[-55,-204],[-60,-224],[-52,-257],[-57,-294],[-54,-330],[-61,-372],[-50,-419],[-58,-468],[-55,-520],[-53,-575],[-57,-633],[-51,-693],[-59,-755],
[-41,582],[-47,522],[-38,471],[-44,449],[-49,422],[-39,396],[-45,369],[-37,342],[-43,317],[-48,289],[-40,260],[-46,239],[-38,209],[-42,181],[-49,159],[-37,129],[-44,101],[-47,79],[-40,49],[-45,20],[-38,-1],[-43,-32],[-49,-62],[-41,-83],[-46,-114],[-37,-144],[-42,-165],[-48,-196],[-39,-228],[-45,-248],[-41,-281],[-47,-318],[-38,-354],[-44,-396],[-49,-443],[-40,-492],[-46,-544],[-42,-599],[-39,-657],[-44,-717],[-47,-779],[-41,-818],
[-28,556],[-34,497],[-26,451],[-31,427],[-36,400],[-27,374],[-33,347],[-25,320],[-30,295],[-35,267],[-29,238],[-25,217],[-32,187],[-36,159],[-27,137],[-31,107],[-34,79],[-28,57],[-25,27],[-33,-2],[-30,-23],[-36,-54],[-26,-84],[-32,-105],[-29,-136],[-35,-166],[-27,-187],[-31,-218],[-34,-250],[-25,-270],[-30,-303],[-33,-340],[-28,-376],[-36,-418],[-26,-465],[-31,-514],[-29,-566],[-34,-621],[-27,-679],[-32,-739],[-35,-800],
[-16,532],[-22,471],[-13,426],[-19,403],[-24,376],[-14,350],[-20,323],[-12,296],[-18,271],[-23,243],[-15,214],[-21,193],[-13,163],[-17,135],[-24,113],[-12,83],[-19,55],[-22,33],[-15,3],[-20,-26],[-13,-47],[-18,-78],[-24,-108],[-16,-129],[-21,-160],[-12,-190],[-17,-211],[-23,-242],[-14,-274],[-20,-294],[-16,-327],[-22,-364],[-13,-400],[-19,-442],[-24,-489],[-15,-538],[-21,-590],[-17,-645],[-14,-703],[-19,-763],[-22,-832],
[-3,508],[-9,449],[-1,405],[-6,381],[-11,354],[-2,328],[-8,301],[0,274],[-5,249],[-10,221],[-3,192],[-7,171],[-1,141],[-9,113],[-4,91],[-11,61],[0,33],[-6,11],[-10,-19],[-2,-48],[-8,-69],[-4,-100],[-11,-130],[0,-151],[-6,-182],[-3,-212],[-9,-233],[-1,-264],[-5,-296],[-10,-316],[-2,-349],[-7,-386],[-4,-422],[-11,-464],[0,-511],[-8,-560],[-5,-612],[-3,-667],[-7,-725],[-1,-785],[-9,-840],
[4,495],[9,430],[2,372],[11,330],[6,291],[1,257],[10,219],[5,184],[12,143],[3,108],[8,69],[1,33],[11,-6],[6,-41],[2,-83],[9,-119],[4,-160],[12,-202],[7,-244],[1,-289],[10,-333],[5,-380],[3,-428],[8,-479],[11,-531],[2,-586],[7,-644],[4,-705],[10,-778],[6,-860],
[17,470],[22,395],[14,351],[25,312],[19,275],[13,238],[23,200],[16,163],[21,124],[15,88],[24,51],[18,14],[13,-24],[22,-62],[16,-101],[20,-140],[14,-181],[25,-223],[18,-266],[23,-311],[15,-357],[21,-404],[17,-453],[24,-504],[13,-558],[19,-615],[22,-676],[16,-740],[20,-820],
[29,452],[34,378],[27,334],[36,296],[31,258],[26,222],[35,184],[30,146],[37,108],[28,71],[33,33],[26,-4],[36,-42],[31,-80],[27,-119],[34,-159],[29,-200],[37,-243],[32,-288],[26,-333],[35,-380],[30,-429],[28,-480],[33,-532],[36,-587],[27,-646],[32,-708],[29,-774],[35,-845],
[42,505],[47,418],[39,361],[50,320],[44,283],[38,247],[48,209],[41,171],[46,133],[40,96],[49,58],[43,21],[38,-17],[47,-56],[41,-95],[45,-135],[39,-176],[50,-219],[43,-263],[48,-309],[40,-355],[46,-403],[42,-453],[49,-505],[38,-559],[44,-616],[47,-677],[41,-743],[45,-815],[48,-985],
[54,480],[59,402],[52,344],[61,306],[56,268],[51,231],[60,193],[55,156],[62,117],[53,80],[58,42],[51,5],[61,-33],[56,-71],[52,-110],[59,-150],[54,-191],[62,-234],[57,-279],[51,-325],[60,-372],[55,-421],[53,-472],[58,-525],[61,-580],[52,-638],[57,-700],[54,-765],[60,-840],[56,-1002],
[67,440],[72,365],[64,326],[75,289],[69,252],[63,215],[73,177],[66,139],[71,101],[65,64],[74,26],[68,-11],[63,-49],[72,-88],[66,-127],[70,-167],[64,-208],[75,-251],[68,-296],[73,-342],[65,-390],[71,-440],[67,-491],[74,-544],[63,-600],[69,-659],[72,-722],[66,-790],[70,-870],
[79,462],[84,384],[77,330],[86,293],[81,256],[76,219],[85,181],[80,143],[87,105],[78,68],[83,30],[76,-7],[86,-45],[81,-83],[77,-122],[84,-162],[79,-204],[87,-247],[82,-292],[76,-338],[85,-386],[80,-436],[78,-488],[83,-541],[86,-597],[77,-656],[82,-720],[79,-790],
[92,425],[97,350],[89,312],[100,276],[94,240],[88,203],[98,166],[91,128],[96,90],[90,53],[99,15],[93,-22],[88,-60],[97,-99],[91,-138],[95,-178],[89,-220],[100,-263],[93,-308],[98,-354],[90,-402],[96,-452],[92,-504],[99,-558],[88,-615],[94,-676],[97,-742],[91,-815],
[104,455],[109,372],[102,318],[111,283],[106,247],[101,210],[110,173],[105,135],[112,97],[103,60],[108,22],[101,-16],[111,-54],[106,-93],[102,-133],[109,-174],[104,-216],[112,-260],[107,-305],[101,-352],[110,-401],[105,-452],[103,-505],[108,-560],[111,-618],[102,-680],[107,-748],[104,-850],
[117,430],[122,345],[114,300],[125,265],[119,229],[113,192],[123,155],[116,117],[121,79],[115,41],[124,3],[118,-35],[113,-74],[122,-113],[116,-153],[120,-194],[114,-237],[125,-281],[118,-327],[123,-375],[115,-425],[121,-477],[117,-531],[124,-588],[113,-648],[119,-712],[122,-785],
[129,418],[134,330],[127,262],[136,228],[131,192],[126,155],[135,117],[130,78],[137,39],[128,0],[133,-40],[126,-81],[136,-123],[131,-167],[127,-213],[134,-261],[129,-311],[137,-364],[132,-420],[126,-479],[135,-542],[130,-610],[133,-690],[128,-780],
[142,395],[147,300],[139,245],[150,210],[144,173],[138,135],[148,97],[141,58],[146,18],[140,-22],[149,-63],[143,-105],[138,-149],[147,-195],[141,-243],[145,-293],[139,-346],[150,-402],[143,-461],[148,-524],[140,-592],[146,-668],[142,-750],[145,-815],
[154,380],[159,285],[152,238],[161,203],[156,166],[151,128],[160,89],[155,50],[162,10],[153,-30],[158,-71],[151,-113],[161,-157],[156,-203],[152,-251],[159,-302],[154,-356],[162,-413],[157,-474],[151,-540],[160,-612],[155,-695],[158,-790],
[167,410],[172,310],[164,232],[175,196],[169,158],[163,120],[173,81],[166,42],[171,2],[165,-38],[174,-79],[168,-122],[163,-167],[172,-214],[166,-263],[170,-315],[164,-370],[175,-428],[168,-490],[173,-557],[165,-630],[171,-712],[167,-800],
[179,390],[184,290],[177,226],[186,190],[181,152],[176,113],[185,74],[180,34],[187,-6],[178,-47],[183,-89],[176,-133],[186,-179],[181,-227],[177,-277],[184,-330],[179,-386],[187,-446],[182,-510],[176,-580],[185,-658],[180,-745],
[192,420],[197,320],[189,220],[200,184],[194,146],[188,107],[198,67],[191,27],[196,-14],[190,-55],[199,-98],[193,-143],[188,-190],[197,-239],[191,-290],[195,-344],[189,-401],[200,-462],[193,-528],[198,-600],[190,-680],[196,-770],
[204,370],[209,280],[202,215],[211,178],[206,139],[201,99],[210,59],[205,18],[212,-24],[203,-66],[208,-110],[201,-156],[211,-204],[206,-254],[202,-307],[209,-363],[204,-422],[212,-485],[207,-553],[201,-628],[210,-712],[205,-790],
[217,350],[222,262],[214,208],[225,170],[219,131],[213,91],[223,50],[216,9],[221,-33],[215,-76],[224,-121],[218,-168],[213,-217],[222,-269],[216,-324],[220,-382],[214,-444],[225,-510],[218,-580],[223,-660],[215,-750],
[229,395],[234,290],[227,230],[238,195],[232,157],[226,118],[236,78],[230,37],[239,-5],[228,-48],[233,-93],[237,-140],[231,-189],[235,-241],[229,-296],[238,-355],[232,-418],[227,-486],[236,-560],[230,-640],[234,-730]
];

// ---- styling ----
const FONT = 'Liberation Sans, Arial, Helvetica, sans-serif';
const C_MEAN = '#A62F5E';
const C_IQR = '#D4899F';
const C_DOT = '#AE2B5C';
const C_REF = '#7F7F7F';
const C_GRID = '#EBEBEB';
const minusFmt = v => String(v).replace('-', '\u2212');

const chart = echarts.init(document.getElementById('c'), null, {renderer: 'canvas'});

function valueAxis(min, max) { return { type: 'value', min: min, max: max, scale: false }; }
const hiddenSymbol = { opacity: 0 };

const option = {
  animation: false,
  backgroundColor: '#fff',
  grid: { left: 103.5, top: 7.5, right: 3, bottom: 61, show: true, borderColor: '#333333', borderWidth: 1.1, backgroundColor: '#fff', containLabel: false },
  xAxis: [
    Object.assign(valueAxis(xLimits[0], xLimits[1]), {
      position: 'bottom',
      axisLine: { show: false },
      axisTick: { show: true, customValues: xTicks, length: 4, lineStyle: { color: '#333', width: 1.1 } },
      axisLabel: { customValues: xTicks, formatter: minusFmt, fontSize: 18, color: '#4D4D4D', fontFamily: FONT, margin: 7 },
      splitLine: { show: true, lineStyle: { color: C_GRID, width: 1.3 } },
      name: xTitle, nameLocation: 'middle', nameGap: 27,
      nameTextStyle: { fontSize: 23, color: '#000', fontFamily: FONT }
    }),
    Object.assign(valueAxis(xLimits[0], xLimits[1]), {
      position: 'top',
      axisLine: { show: false },
      axisTick: { show: false, customValues: xMinorTicks },
      axisLabel: { show: false, customValues: xMinorTicks },
      splitLine: { show: true, lineStyle: { color: C_GRID, width: 0.7 } }
    })
  ],
  yAxis: [
    Object.assign(valueAxis(yLimits[0], yLimits[1]), {
      position: 'left',
      axisLine: { show: false },
      axisTick: { show: true, customValues: yTicks, length: 4, lineStyle: { color: '#333', width: 1.1 } },
      axisLabel: { customValues: yTicks, formatter: minusFmt, fontSize: 18, color: '#4D4D4D', fontFamily: FONT, margin: 9 },
      splitLine: { show: true, lineStyle: { color: C_GRID, width: 1.3 } },
      name: yTitle, nameLocation: 'middle', nameGap: 67, nameRotate: 90,
      nameTextStyle: { fontSize: 22.2, color: '#000', fontFamily: FONT }
    }),
    Object.assign(valueAxis(yLimits[0], yLimits[1]), {
      position: 'right',
      axisLine: { show: false },
      axisTick: { show: false, customValues: yMinorTicks },
      axisLabel: { show: false, customValues: yMinorTicks },
      splitLine: { show: true, lineStyle: { color: C_GRID, width: 0.7 } }
    })
  ],
  legend: [
    {
      left: 128, top: 426, orient: 'vertical', padding: 0, itemGap: 1,
      itemWidth: 49, itemHeight: 18, selectedMode: false,
      textStyle: { fontSize: 18, color: '#000', fontFamily: FONT, padding: [0, 0, 0, 13] },
      data: [
        { name: nameMean, itemStyle: hiddenSymbol, lineStyle: { width: 4.5, color: C_MEAN } },
        { name: nameIQR, itemStyle: hiddenSymbol, lineStyle: { width: 3, color: C_IQR } }
      ]
    },
    {
      left: 291, top: 426, orient: 'vertical', padding: 0,
      itemWidth: 47, itemHeight: 18, selectedMode: false,
      textStyle: { fontSize: 18, color: '#000', fontFamily: FONT, padding: [0, 0, 0, 16] },
      data: [ { name: nameP1090, itemStyle: hiddenSymbol, lineStyle: { width: 4, color: C_DOT } } ]
    }
  ],
  graphic: [
    { type: 'rect', z: 1, silent: true, shape: { x: 110, y: 402, width: 342, height: 71 }, style: { fill: '#fff' } },
    { type: 'text', z: 5, silent: true, x: 115, y: 22.5, style: { text: quadTopLeft, fontSize: 21, fontFamily: FONT, fill: '#000', align: 'left', verticalAlign: 'middle' } },
    { type: 'text', z: 5, silent: true, x: 976, y: 22.5, style: { text: quadTopRight, fontSize: 21, fontFamily: FONT, fill: '#000', align: 'right', verticalAlign: 'middle' } },
    { type: 'text', z: 5, silent: true, x: 115, y: 500.5, style: { text: quadBottomLeft, fontSize: 21, fontFamily: FONT, fill: '#000', align: 'left', verticalAlign: 'middle' } },
    { type: 'text', z: 5, silent: true, x: 976, y: 500.5, style: { text: quadBottomRight, fontSize: 21, fontFamily: FONT, fill: '#000', align: 'right', verticalAlign: 'middle' } }
  ],
  series: [
    {
      type: 'scatter', name: 'obs', data: cloud, symbol: 'circle', symbolSize: 7.5, silent: true,
      itemStyle: { color: 'rgba(0,0,0,0)', borderColor: 'rgba(90,90,90,0.42)', borderWidth: 0.85 },
      emphasis: { disabled: true }
    },
    {
      type: 'line', name: 'fit', data: diagonal, symbol: 'none', silent: true,
      lineStyle: { color: C_REF, width: 4.3 },
      markLine: { silent: true, symbol: 'none', label: { show: false }, lineStyle: { color: C_REF, width: 4, type: 'solid' }, data: [ { xAxis: vlineX } ], emphasis: { disabled: true } },
      emphasis: { disabled: true }
    },
    { type: 'line', name: nameP1090, data: p90Line, symbol: 'none', silent: true, itemStyle: { color: C_DOT }, lineStyle: { color: C_DOT, width: 4, type: [4, 14], cap: 'butt' }, emphasis: { disabled: true } },
    { type: 'line', name: nameP1090, data: p10Line, symbol: 'none', silent: true, itemStyle: { color: C_DOT }, lineStyle: { color: C_DOT, width: 4, type: [4, 14], cap: 'butt' }, emphasis: { disabled: true } },
    { type: 'line', name: nameIQR, data: p75Line, symbol: 'none', silent: true, itemStyle: { color: C_IQR }, lineStyle: { color: C_IQR, width: 3 }, emphasis: { disabled: true } },
    { type: 'line', name: nameIQR, data: p25Line, symbol: 'none', silent: true, itemStyle: { color: C_IQR }, lineStyle: { color: C_IQR, width: 3 }, emphasis: { disabled: true } },
    { type: 'line', name: nameMean, data: meanLine, symbol: 'none', silent: true, itemStyle: { color: C_MEAN }, lineStyle: { color: C_MEAN, width: 4.5 }, emphasis: { disabled: true } }
  ]
};
chart.setOption(option);
</script>
</body></html>
